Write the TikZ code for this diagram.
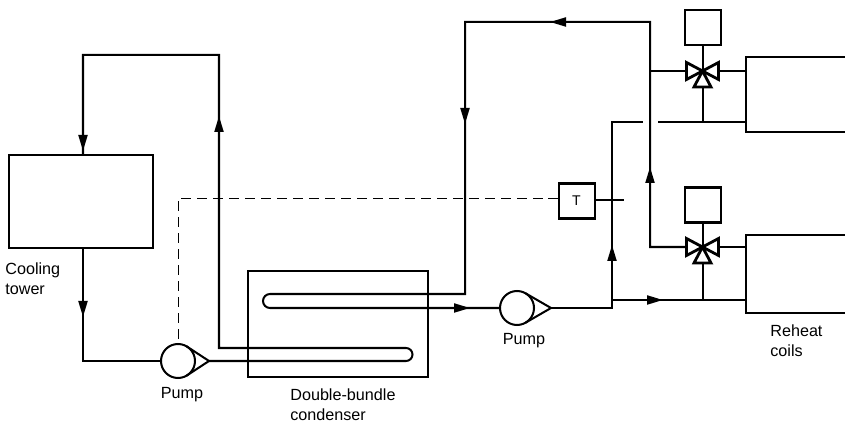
\documentclass[tikz,border=0pt]{standalone}
\usepackage{fontspec}
\setmainfont{Liberation Sans}
\usetikzlibrary{arrows.meta}

\begin{document}
\begin{tikzpicture}[
		pipe/.style={line width=1.15pt, line join=miter},
		flow/.style={line width=1.15pt, -{Triangle[length=0.32cm, width=0.18cm]}},
		sensing/.style={line width=0.55pt, dash pattern=on 5.7pt off 3.4pt},
		unit/.style={shape=rectangle, draw, line width=1.15pt, inner sep=0pt, outer sep=0pt},
		actuator/.style={unit, minimum width=0.72cm, minimum height=0.7cm, font=\fontsize{8pt}{9pt}\selectfont},
		pumpbody/.style={shape=circle, draw, line width=1.15pt, minimum size=0.68cm, inner sep=0pt, outer sep=0pt},
		vane/.style={draw, fill=white, line width=1.6pt, line join=miter},
		caption/.style={anchor=west, align=left, inner sep=0pt, font=\fontsize{9.2pt}{11.3pt}\selectfont}
	]
	\useasboundingbox (0, 0) rectangle (16.9, 8.44);
	% Units:
	\node[unit, minimum width=2.88cm, minimum height=1.86cm](tower) at (1.62, 4.41){};
	\node[unit, minimum width=3.6cm, minimum height=2.12cm](condenser) at (6.76, 1.96){};
	\node[actuator](act1) at (14.05, 7.88){};
	\node[actuator](act2) at (14.05, 4.34){};
	\node[actuator](sensor) at (11.53, 4.42){T};
	\node[unit, minimum width=2.2cm, minimum height=1.5cm, anchor=north west](coil1) at (14.92, 7.3){};
	\node[unit, minimum width=2.2cm, minimum height=1.56cm, anchor=north west](coil2) at (14.92, 3.74){};
	\node[pumpbody](pump1) at (3.56, 1.22){};
	\node[pumpbody](pump2) at (10.34, 2.28){};
	% Junctions and bends:
	\coordinate (tip1) at (4.18, 1.22);
	\coordinate (tip2) at (11.02, 2.28);
	\coordinate (v1) at (14.05, 7.02);
	\coordinate (v2) at (14.05, 3.5);
	\coordinate (a) at (1.66, 1.22);
	\coordinate (b) at (4.38, 7.34);
	\coordinate (c) at (1.66, 7.34);
	\coordinate (d) at (9.3, 8.0);
	\coordinate (e) at (13.0, 8.0);
	\coordinate (f) at (12.24, 2.28);
	\coordinate (g) at (12.24, 6.0);
	\coordinate (h) at (12.86, 6.0);
	\coordinate (i) at (13.16, 6.0);
	\coordinate (j) at (13.0, 3.5);
	\coordinate (k) at (12.24, 2.44);
	\coordinate (m) at (14.05, 6.0);
	\coordinate (n) at (14.05, 2.44);
	\coordinate (o) at (3.56, 4.48);
	\coordinate (p) at (12.48, 4.44);
	\coordinate (q) at (13.0, 7.02);
	% Pipes:
	\draw[pipe] (tower.south -| a) -- (a) -- (pump1.west);
	\draw[flow] (tower.south -| a) -- (1.66, 2.1);
	\draw[pipe] (tip1) -- (8.12, 1.22) arc[start angle=-90, end angle=90, radius=0.13] -- (4.38, 1.48) -- (b) -- (c) -- (tower.north -| c);
	\draw[flow] (c) -- (1.66, 5.42);
	\draw[flow] (4.38, 1.48) -- (4.38, 6.12);
	\draw[pipe] (tip2) -- (f) -- (g) -- (h);
	\draw[pipe] (i) -- (i -| coil1.west);
	\draw[pipe] (pump2.west) -- (5.4, 2.28) arc[start angle=270, end angle=90, radius=0.14] -- (9.3, 2.56) -- (d) -- (e) -- (j) -- (v2);
	\draw[flow] (e) -- (11.0, 8.0);
	\draw[flow] (d) -- (9.3, 5.96);
	\draw[flow] (j) -- (13.0, 5.1);
	\draw[flow] (f) -- (12.24, 3.54);
	\draw[flow] (5.4, 2.28) -- (9.4, 2.28);
	\draw[pipe] (q) -- (v1) -- (v1 -| coil1.west);
	\draw[pipe] (v2) -- (v2 -| coil2.west);
	\draw[pipe] (k) -- (k -| coil2.west);
	\draw[flow] (k) -- (13.26, 2.44);
	\draw[pipe] (act1.south) -- (v1) -- (m);
	\draw[pipe] (act2.south) -- (v2) -- (n);
	\draw[pipe] (p -| sensor.east) -- (p);
	\draw[sensing] (o -| sensor.west) -- (o) -- (pump1.north);
	% Pump housings:
	\draw[pipe] (pump1.60) -- (tip1) -- (pump1.-60);
	\draw[pipe] (pump2.60) -- (tip2) -- (pump2.-60);
	% Mixing valves:
	\draw[vane] (v1) -- ++(-0.32, 0.17) -- ++(0, -0.34) -- cycle;
	\draw[vane] (v1) -- ++(0.32, 0.17) -- ++(0, -0.34) -- cycle;
	\draw[vane] (v1) -- ++(-0.17, -0.32) -- ++(0.34, 0) -- cycle;
	\draw[vane] (v2) -- ++(-0.32, 0.17) -- ++(0, -0.34) -- cycle;
	\draw[vane] (v2) -- ++(0.32, 0.17) -- ++(0, -0.34) -- cycle;
	\draw[vane] (v2) -- ++(-0.17, -0.32) -- ++(0.34, 0) -- cycle;
	% Labels:
	\node[caption](towerlabel) at (0.1, 2.86){Cooling\\tower};
	\node[caption, anchor=center](pump1label) at (3.64, 0.54){Pump};
	\node[caption](condenserlabel) at (5.8, 0.34){Double-bundle\\condenser};
	\node[caption, anchor=center](pump2label) at (10.48, 1.62){Pump};
	\node[caption](coillabel) at (15.4, 1.62){Reheat\\coils};
\end{tikzpicture}
\end{document}
